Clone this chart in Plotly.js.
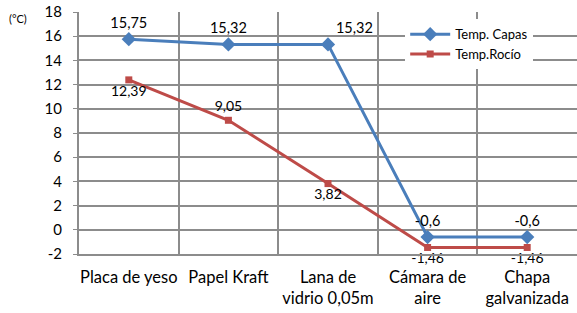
<!DOCTYPE html>
<html><head><meta charset="utf-8">
<script src="https://cdn.plot.ly/plotly-3.0.1.min.js"></script>
<style>html,body{margin:0;padding:0;background:#fff}#c{width:577px;height:313px}</style>
</head><body><div id="c"></div>
<script>
const categories = ["Placa de yeso", "Papel Kraft", "Lana de<br>vidrio 0,05m", "Cámara de<br>aire", "Chapa<br>galvanizada"];
const tempCapas = [15.75, 15.32, 15.32, -0.6, -0.6];
const tempRocio = [12.39, 9.05, 3.82, -1.46, -1.46];
const capasLabels = ["15,75", "15,32", "15,32", "-0,6", "-0,6"];
const rocioLabels = ["12,39", "9,05", "3,82", "-1,46", "-1,46"];
const yTicks = [-2, 0, 2, 4, 6, 8, 10, 12, 14, 16, 18];

const font = "Lato, 'Open Sans', sans-serif";
const traces = [
  {x: categories, y: tempCapas, name: "Temp. Capas", mode: "lines+markers+text",
   line: {color: "#4a7ebb", width: 3}, marker: {symbol: "diamond", size: 11, color: "#4a7ebb"},
   text: capasLabels, textposition: ["top center", "top center", "top right", "top center", "top center"],
   textfont: {family: font, size: 14.5, color: "#000"}, cliponaxis: false},
  {x: categories, y: tempRocio, name: "Temp.Rocío", mode: "lines+markers+text",
   line: {color: "#be4b48", width: 3}, marker: {symbol: "square", size: 7, color: "#be4b48"},
   text: rocioLabels, textposition: ["bottom center", "top center", "bottom center", "bottom center", "bottom center"],
   textfont: {family: font, size: 14, color: "#000"}, cliponaxis: false}
];
const layout = {
  width: 577, height: 313,
  margin: {l: 79, r: 0, t: 12, b: 59},
  paper_bgcolor: "#fff", plot_bgcolor: "#fff",
  font: {family: font, size: 14, color: "#000"},
  showlegend: true,
  legend: {x: 0.655, y: 0.97, xanchor: "left", yanchor: "top", bgcolor: "#fff",
           font: {family: font, size: 13, color: "#000"}, tracegroupgap: 0, itemwidth: 40},
  xaxis: {type: "category", range: [-0.5, 4.5], tickson: "boundaries", showgrid: true,
          gridcolor: "#8c8c8c", gridwidth: 2, showline: true, linecolor: "#8c8c8c", linewidth: 2,
          ticks: "outside", ticklen: 0, ticklabelstandoff: 7,
          tickfont: {family: font, size: 16.5}, fixedrange: true},
  yaxis: {range: [-2, 18], tickvals: yTicks, ticktext: yTicks.map(String), showgrid: true,
          gridcolor: "#8c8c8c", gridwidth: 2, showline: true, linecolor: "#8c8c8c", linewidth: 2,
          zeroline: false, ticks: "outside", ticklen: 4, tickcolor: "#8c8c8c", ticklabelstandoff: 8,
          tickfont: {family: font, size: 15}, fixedrange: true},
  annotations: [{text: "(°C)", xref: "paper", yref: "paper", x: -0.145, y: 0.975,
                 xanchor: "left", yanchor: "middle", showarrow: false, font: {family: font, size: 11}}]
};
Plotly.newPlot("c", traces, layout, {displayModeBar: false, staticPlot: true});
</script></body></html>
